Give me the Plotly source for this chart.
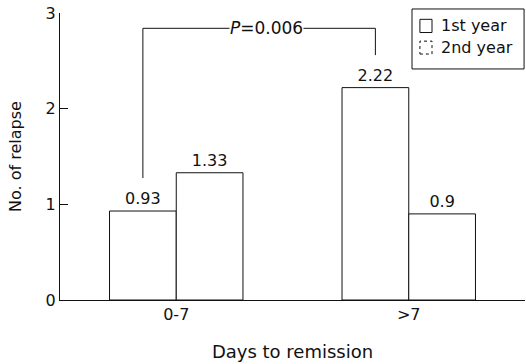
import plotly.graph_objects as go

categories = ["0-7", ">7"]
first_year = [0.93, 2.22]
second_year = [1.33, 0.9]
series_names = ["1st year", "2nd year"]
p_label = "<i>P</i>=0.006"
bracket_top = 2.84
bracket_left_end = 1.275
bracket_right_end = 2.56

FAM = "DejaVu Sans, Verdana, sans-serif"
INK = "#111"
font = dict(family=FAM, size=16, color=INK)

bargap = 0.426
half = (1 - bargap) / 4  # center offset of each bar within its group

fig = go.Figure()
for name, vals in [(series_names[0], first_year), (series_names[1], second_year)]:
    fig.add_trace(go.Bar(x=[0, 1], y=vals, name=name,
                         marker=dict(color="white", line=dict(color=INK, width=1)),
                         text=[f"{v:g}" for v in vals], textposition="outside",
                         textfont=font, cliponaxis=False, showlegend=False,
                         hoverinfo="skip"))

# significance bracket between 1st-year bars
xl = 0 - half
xr = 1 - half
for x0, x1, y0, y1 in [(xl, xl, bracket_left_end, bracket_top),
                       (xl, xr, bracket_top, bracket_top),
                       (xr, xr, bracket_right_end, bracket_top)]:
    fig.add_shape(type="line", xref="x", yref="y", x0=x0, x1=x1, y0=y0, y1=y1,
                  line=dict(color=INK, width=1))
fig.add_annotation(x=(xl + xr) / 2 + 0.03, y=bracket_top, text=p_label, showarrow=False,
                   bgcolor="white", font=dict(family=FAM, size=17, color=INK), borderpad=0,
                   xref="x", yref="y")

# legend (drawn manually)
fig.add_shape(type="rect", xref="paper", yref="paper", x0=0.757, x1=0.998, y0=0.805, y1=1.014,
              line=dict(color=INK, width=1), fillcolor="white", layer="above")
legend_rows = [(0.978, 0.932, "solid"), (0.902, 0.857, "dot")]
for (ya, yb, dash), name in zip(legend_rows, series_names):
    fig.add_shape(type="rect", xref="paper", yref="paper", x0=0.774, x1=0.800, y0=yb, y1=ya,
                  line=dict(color=INK, width=1, dash=dash), fillcolor="white", layer="above")
    fig.add_annotation(xref="paper", yref="paper", x=0.815, y=(ya + yb) / 2, text=name,
                       showarrow=False, xanchor="left", yanchor="middle", font=font)

fig.update_layout(
    width=526, height=364,
    margin=dict(l=60, r=1, t=13, b=64),
    paper_bgcolor="white", plot_bgcolor="white",
    barmode="group", bargap=bargap, bargroupgap=0,
    font=font,
    showlegend=False,
    hovermode=False,
    xaxis=dict(tickmode="array", tickvals=[0, 1], ticktext=categories,
               range=[-0.5, 1.5], showline=True, linecolor=INK, linewidth=1,
               ticks="", showgrid=False, zeroline=False, automargin=False,
               tickfont=font,
               title=dict(text="Days to remission", standoff=22,
                          font=dict(family=FAM, size=18, color=INK))),
    yaxis=dict(range=[0, 3], tickvals=[0, 1, 2, 3], showline=True, linecolor=INK,
               linewidth=1, ticks="inside", ticklen=8, tickcolor=INK,
               showgrid=False, zeroline=False, automargin=False, tickfont=font,
               title=dict(text="No. of relapse", standoff=20,
                          font=dict(family=FAM, size=16, color=INK))),
)
fig.write_html("out.html", config={"displayModeBar": False, "staticPlot": True},
               post_script="document.body.style.margin='0';document.body.style.overflow='hidden';")
